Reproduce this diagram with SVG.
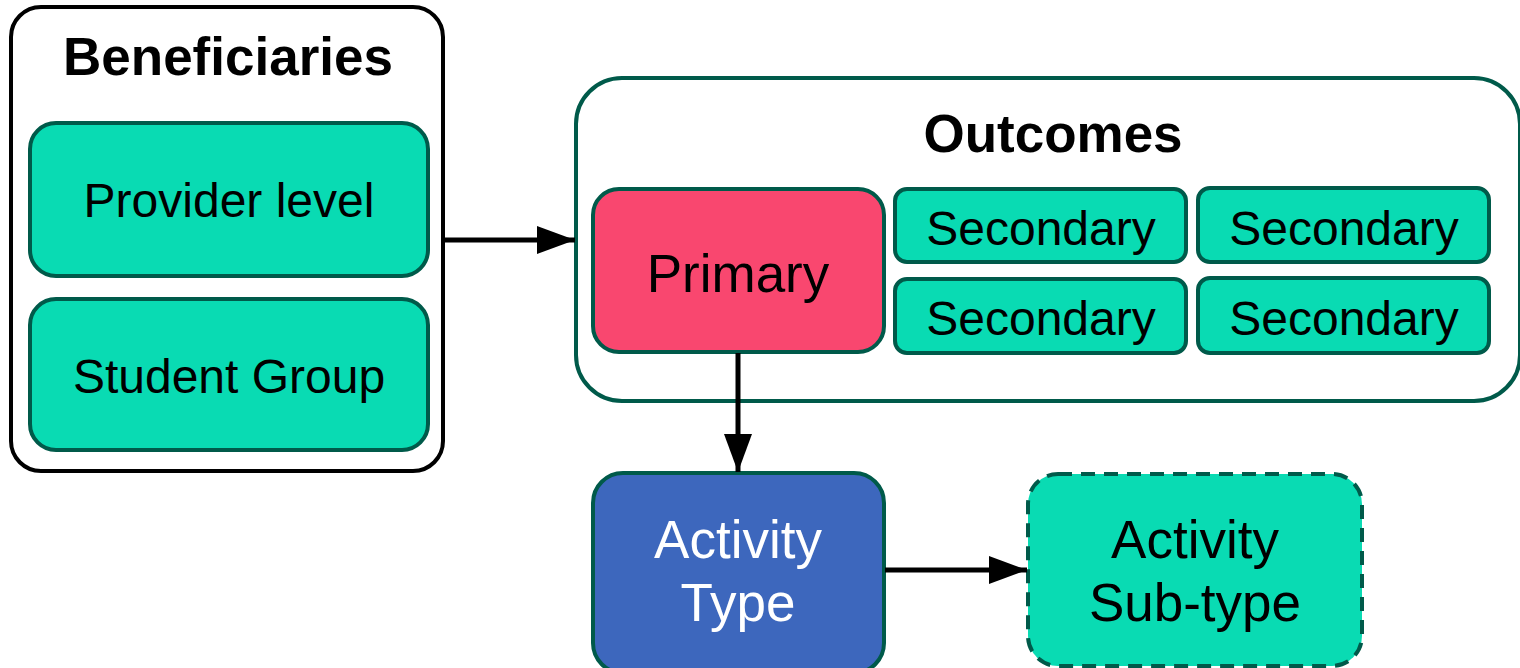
<svg xmlns="http://www.w3.org/2000/svg" width="1520" height="668" viewBox="0 0 1520 668">
<defs>
<style>
text{font-family:"Liberation Sans",Arial,sans-serif;text-anchor:middle;fill:#000}
.title{font-weight:bold;font-size:53px}
.lbl{font-size:48px}
.big{font-size:53px}
.green{fill:#09DBB3;stroke:#005A4A;stroke-width:4}
.edge{stroke:#000;stroke-width:5;fill:none}
</style>
<marker id="arr" markerWidth="38" markerHeight="28" refX="38" refY="14" orient="auto" markerUnits="userSpaceOnUse" viewBox="0 0 38 28">
<path d="M0,0 L38,14 L0,28 Z" fill="#000"/>
</marker>
</defs>
<g id="beneficiaries">
<rect x="11" y="7" width="432" height="464" rx="30" fill="#fff" stroke="#000" stroke-width="4"/>
<text class="title" x="228" y="75">Beneficiaries</text>
</g>
<g id="provider-level">
<rect class="green" x="30" y="123" width="398" height="153" rx="26"/>
<text class="lbl" x="229" y="217">Provider level</text>
</g>
<g id="student-group">
<rect class="green" x="30" y="299" width="398" height="151" rx="26"/>
<text class="lbl" x="229" y="393">Student Group</text>
</g>
<g id="outcomes">
<rect x="576" y="78" width="944" height="323" rx="46" fill="#fff" stroke="#005A4A" stroke-width="4"/>
<text class="title" x="1053" y="152">Outcomes</text>
</g>
<g id="primary">
<rect x="593" y="189" width="291" height="163" rx="26" fill="#F9476F" stroke="#005A4A" stroke-width="4"/>
<text class="big" x="738" y="292">Primary</text>
</g>
<g id="secondary-1">
<rect class="green" x="895" y="189" width="291" height="73" rx="12"/>
<text class="lbl" x="1041" y="245">Secondary</text>
</g>
<g id="secondary-2">
<rect class="green" x="1198" y="188" width="291" height="74" rx="12"/>
<text class="lbl" x="1344" y="245">Secondary</text>
</g>
<g id="secondary-3">
<rect class="green" x="895" y="279" width="291" height="74" rx="12"/>
<text class="lbl" x="1041" y="335">Secondary</text>
</g>
<g id="secondary-4">
<rect class="green" x="1198" y="278" width="291" height="75" rx="12"/>
<text class="lbl" x="1344" y="335">Secondary</text>
</g>
<g id="activity-type">
<rect x="593" y="473" width="291" height="200" rx="30" fill="#3D67BD" stroke="#005A4A" stroke-width="4"/>
<text class="big" x="738" y="558" style="fill:#fff">Activity</text>
<text class="big" x="738" y="621" style="fill:#fff">Type</text>
</g>
<g id="activity-subtype">
<rect x="1028" y="474" width="334" height="192" rx="30" fill="#09DBB3" stroke="#005A4A" stroke-width="4" stroke-dasharray="14,9"/>
<text class="big" x="1195" y="558">Activity</text>
<text class="big" x="1195" y="621">Sub-type</text>
</g>
<g id="connectors">
<line class="edge" x1="445" y1="240" x2="575" y2="240" marker-end="url(#arr)"/>
<line class="edge" x1="738" y1="353" x2="738" y2="472" marker-end="url(#arr)"/>
<line class="edge" x1="885" y1="570" x2="1027" y2="570" marker-end="url(#arr)"/>
</g>
</svg>
